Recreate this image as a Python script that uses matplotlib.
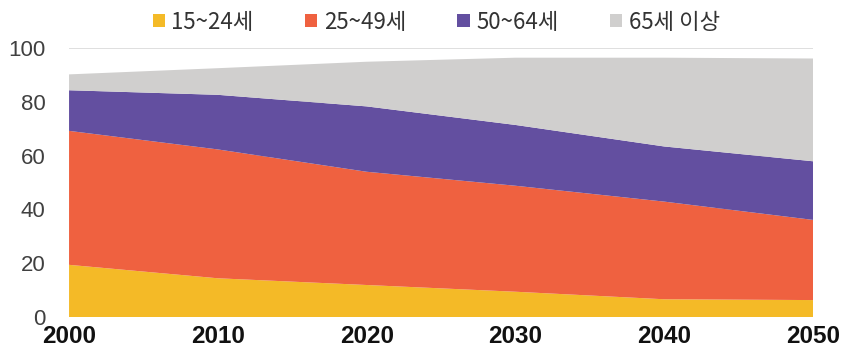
import matplotlib
matplotlib.use("Agg")
import matplotlib.pyplot as plt
from matplotlib.patches import Patch
from matplotlib import font_manager

years = [2000, 2010, 2020, 2030, 2040, 2050]
age_15_24 = [19.4, 14.4, 11.9, 9.4, 6.6, 6.3]
age_25_49 = [49.8, 47.9, 42.1, 39.4, 36.3, 29.8]
age_50_64 = [15.1, 20.3, 24.3, 22.6, 20.5, 21.8]
age_65_up = [5.9, 9.9, 16.6, 25.0, 33.0, 38.2]
labels = ["15~24세", "25~49세", "50~64세", "65세 이상"]
colors = ["#F4BA27", "#EF6140", "#634FA0", "#D0CFCE"]

names = {f.name for f in font_manager.fontManager.ttflist}
narrow = "Liberation Sans Narrow" if "Liberation Sans Narrow" in names else "Liberation Sans"
plt.rcParams["font.family"] = ["Noto Sans CJK KR", "DejaVu Sans"]

fig = plt.figure(figsize=(8.42, 3.57), dpi=100)
ax = fig.add_axes([0.082, 0.112, 0.8836, 0.7535])

ax.stackplot(years, age_15_24, age_25_49, age_50_64, age_65_up,
             colors=colors, linewidth=0, zorder=2)

ax.set_xlim(2000, 2050)
ax.set_ylim(0, 100)
ax.set_yticks(range(0, 101, 20))
ax.set_xticks(years)
ax.grid(axis="y", color="#D9D9D9", linewidth=1.2, zorder=0)
ax.set_axisbelow(True)
for s in ax.spines.values():
    s.set_visible(False)
ax.tick_params(length=0)
ax.tick_params(axis="y", pad=17)
ax.tick_params(axis="x", pad=6)

for t in ax.get_yticklabels():
    t.set_fontfamily(narrow)
    t.set_fontsize(16)
    t.set_color("#404040")
for t in ax.get_xticklabels():
    t.set_fontfamily(narrow)
    t.set_fontsize(17.5)
    t.set_fontweight("bold")
    t.set_color("#111111")

handles = [Patch(facecolor=c, edgecolor="none") for c in colors]
fig.legend(handles, labels, loc="center", bbox_to_anchor=(0.518, 0.938), ncol=4,
           frameon=False, fontsize=16, handlelength=0.55, handleheight=0.55,
           handletextpad=0.3, columnspacing=2.3, labelcolor="#333333")

fig.savefig("out.png", dpi=100)
